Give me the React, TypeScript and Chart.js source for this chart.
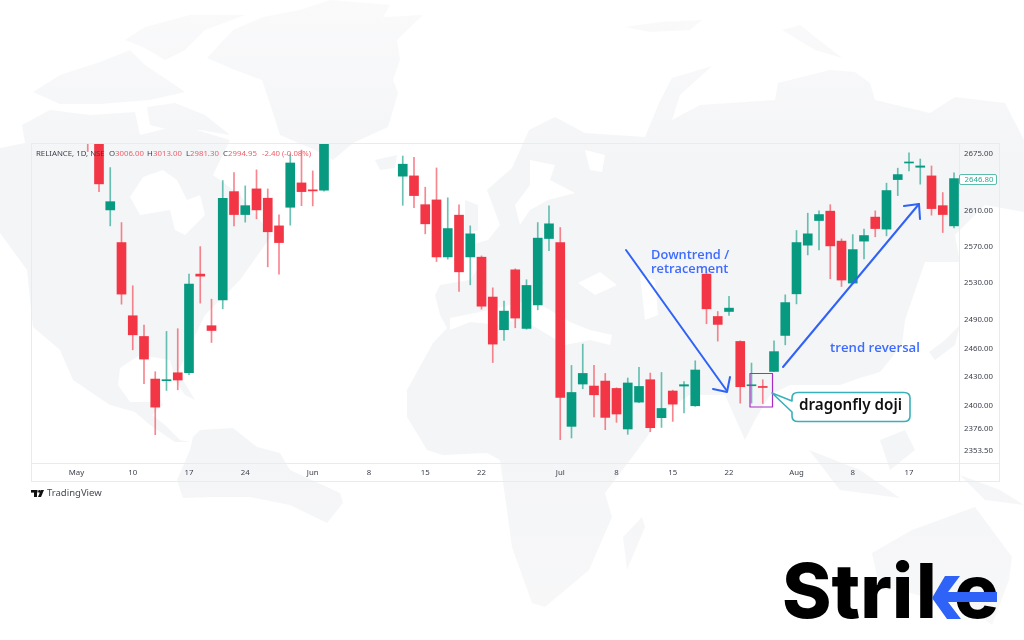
import React, { useEffect, useRef } from "react";
import { Chart, registerables } from "chart.js";

Chart.register(...registerables);

const sessions = [0,1,2,3,4,5,6,7,8,9,10,11,12,13,14,15,16,17,18,19,20,21,28,29,30,31,32,33,34,35,36,37,38,39,40,41,42,43,44,45,46,47,48,49,50,51,52,53,54,55,56,57,58,59,60,61,62,63,64,65,66,67,68,69,70,71,72,73,74,75,76,77];
const opens = [2730,2725,2611.3,2574.8,2494.8,2472.6,2427.6,2425.9,2434.2,2434.2,2540,2484.1,2512,2632,2606.1,2635.1,2624.5,2593.4,2614.3,2641.9,2634,2633.6,2649.6,2649.9,2617.2,2622.6,2558.9,2605.4,2558.9,2558.6,2515,2479.8,2544.7,2481.2,2506.5,2579.3,2574.8,2378.6,2422.4,2420.3,2425.5,2417.8,2375.9,2403.6,2426.9,2387.5,2415.1,2420.3,2399.8,2540,2494,2499.4,2467.3,2420.6,2419.9,2435.6,2473.7,2518.5,2571.9,2599.4,2609.9,2576.4,2530.2,2576.4,2603.2,2589.8,2645.7,2664.7,2659.8,2649.9,2616.1,2593.4];
const closes = [2700,2640.8,2620.6,2518.2,2474.4,2448.6,2398.4,2426.4,2426.6,2529.1,2537.8,2479,2624.5,2606.1,2616.1,2611.3,2586.8,2574.8,2664.7,2632,2632.8,2720,2663.3,2627.5,2595.7,2558.9,2590.4,2542.5,2584.5,2505.1,2464.5,2499.8,2492.3,2527.6,2579.7,2595.7,2408.4,2413.6,2433.5,2411.2,2387.8,2391.3,2423.5,2419.9,2377.2,2397,2401.5,2421.7,2437.1,2502.3,2485.5,2503,2419.6,2421.2,2418.8,2456.5,2509,2574.8,2584.5,2606.1,2571.1,2533.5,2567,2582.6,2590.4,2633.2,2651.4,2665.3,2661.3,2612.8,2606.1,2646.8];
const highs = [2745,2735,2659.4,2597.1,2527.3,2484.8,2435.3,2478,2480.9,2540,2570.3,2512.7,2644.6,2653.7,2638.5,2656.8,2635.1,2605.7,2675,2679.6,2655.6,2735,2672.7,2671.2,2637,2659,2625,2616.9,2593.4,2560,2525,2510.5,2545.8,2533.8,2597.1,2615.8,2591.6,2441.9,2464.5,2441.9,2433.5,2418.5,2428.7,2439.8,2433.9,2434.5,2416,2425.1,2446.8,2541.8,2499.4,2515.9,2468,2444.4,2426.9,2468,2517.4,2588.2,2607.6,2610.2,2617.2,2578.9,2583.7,2589.8,2610.2,2641.6,2658.7,2676.5,2669.3,2661.3,2630.9,2653.3];
const lows = [2677.9,2632,2593.4,2507.3,2458.4,2422.7,2370.1,2415.7,2416.4,2432.1,2508.4,2466.2,2502.3,2593.4,2597.6,2601.3,2548,2540,2594.2,2616.1,2615.8,2632.5,2616.5,2613.9,2584.5,2553.8,2556.4,2521,2528.3,2501.9,2445,2468.3,2481.9,2480.3,2501.2,2565.9,2365,2366.7,2417.5,2388.2,2375.2,2382.7,2370.4,2403,2373.1,2377.5,2383.7,2392.3,2399.2,2486.2,2467.7,2495.1,2402.5,2402.5,2402.1,2435.3,2463.7,2507.6,2561.1,2566.7,2534.9,2526.5,2529.7,2556.7,2581.2,2582.3,2627.5,2655.6,2640.5,2605.4,2586,2591.2];

const priceTicks = [2675, 2610, 2570, 2530, 2490, 2460, 2430, 2400, 2376, 2353.5];
const timeTicks = [-1, 4, 9, 14, 20, 25, 30, 35, 42, 47, 52, 57, 63, 68, 73];
const timeLabels = ["May", "10", "17", "24", "Jun", "8", "15", "22", "Jul", "8", "15", "22", "Aug", "8", "17"];
const lastPrice = "2646.80";

const GREEN = "#089981";
const RED = "#F23645";
const BLUE = "#2f62f6";

const land: number[][][] = [
  [[207,58],[233,30],[263,17],[300,10],[330,0],[390,5],[383,17],[423,15],[397,40],[400,60],[393,80],[398,93],[388,127],[353,143],[333,160],[315,150],[280,135],[272,110],[262,80],[235,70]],
  [[33,92],[60,75],[100,62],[130,50],[145,65],[175,85],[185,92],[150,100],[100,104],[60,104]],
  [[125,40],[145,27],[190,15],[245,15],[205,30],[185,50],[165,60],[145,48]],
  [[147,107],[175,103],[205,115],[230,135],[200,130],[170,130],[150,125]],
  [[0,148],[25,143],[22,125],[50,110],[90,115],[135,112],[140,135],[180,125],[230,140],[213,175],[240,195],[272,235],[240,280],[230,290],[205,315],[193,340],[178,372],[195,400],[185,395],[176,382],[170,360],[140,355],[120,368],[118,385],[130,402],[150,402],[158,395],[163,405],[152,415],[165,425],[180,440],[190,442],[175,442],[150,425],[135,412],[110,405],[95,395],[73,380],[60,350],[33,327],[27,270],[0,233]],
  [[200,430],[233,428],[257,447],[280,453],[290,470],[340,493],[343,503],[327,523],[290,505],[250,497],[210,497],[183,498],[177,480],[190,450],[193,437]],
  [[407,390],[433,343],[447,328],[440,315],[435,295],[440,285],[470,280],[480,265],[470,245],[488,240],[500,225],[487,190],[512,168],[529,130],[555,117],[585,133],[645,137],[659,103],[672,78],[712,66],[680,95],[672,120],[700,105],[775,100],[778,83],[830,70],[855,72],[870,83],[875,100],[930,113],[955,97],[1005,103],[1024,140],[1024,212],[985,205],[955,235],[960,262],[925,262],[905,320],[902,345],[880,372],[860,378],[840,385],[815,385],[790,385],[770,395],[755,420],[745,440],[725,395],[690,395],[665,410],[645,440],[605,493],[612,517],[589,570],[545,607],[532,603],[512,547],[500,460],[487,453],[443,455],[427,450],[407,417]],
  [[642,517],[645,527],[627,570],[623,537]],
  [[872,553],[912,530],[975,507],[1012,557],[1009,580],[992,625],[972,610],[935,600],[900,590],[880,590]],
  [[809,450],[860,470],[900,498],[840,490]],
  [[880,440],[905,430],[915,450],[890,470]],
  [[960,475],[1000,490],[1024,505],[985,500]],
  [[929,352],[945,340],[960,325],[955,345],[935,360]],
  [[375,160],[397,155],[395,168],[380,170]],
  [[465,200],[478,205],[478,230],[465,235]],
  [[625,27],[660,22],[702,20],[690,30],[650,32]],
  [[782,30],[800,25],[842,58],[815,50],[795,38]],
];
const water: number[][][] = [
  [[130,197],[143,177],[163,170],[177,180],[187,200],[200,195],[205,215],[185,235],[175,230],[170,210],[140,215]],
  [[450,330],[470,322],[500,325],[520,318],[540,330],[565,345],[590,340],[610,345],[612,335],[590,330],[570,322],[550,310],[530,300],[510,305],[480,312],[450,318]],
  [[530,160],[555,165],[550,180],[575,193],[548,200],[530,210],[520,225],[515,205],[530,185]],
  [[578,283],[600,272],[617,285],[595,295]],
  [[640,275],[655,280],[658,315],[645,320]],
  [[585,150],[605,155],[602,172],[590,170]],
];

function poly(ctx: CanvasRenderingContext2D, pts: number[][], color: any) {
  ctx.fillStyle = color;
  ctx.beginPath();
  pts.forEach((p, i) => (i ? ctx.lineTo(p[0], p[1]) : ctx.moveTo(p[0], p[1])));
  ctx.closePath();
  ctx.fill();
}

function line(ctx: CanvasRenderingContext2D, pts: number[][], color: string, w: number) {
  ctx.strokeStyle = color;
  ctx.lineWidth = w;
  ctx.lineCap = "round";
  ctx.lineJoin = "round";
  ctx.beginPath();
  pts.forEach((p, i) => (i ? ctx.lineTo(p[0], p[1]) : ctx.moveTo(p[0], p[1])));
  ctx.stroke();
}

function text(ctx: CanvasRenderingContext2D, s: string, x: number, y: number, font: string, color: string) {
  ctx.font = font;
  ctx.fillStyle = color;
  ctx.textAlign = "left";
  ctx.textBaseline = "middle";
  ctx.fillText(s, x, y);
}

const backdrop = {
  id: "backdrop",
  beforeDraw(chart: any) {
    const ctx: CanvasRenderingContext2D = chart.ctx;
    ctx.save();
    ctx.fillStyle = "#ffffff";
    ctx.fillRect(0, 0, 1024, 640);
    const g = ctx.createLinearGradient(0, 0, 0, 640);
    g.addColorStop(0, "#fafafb");
    g.addColorStop(0.25, "#f4f5f7");
    g.addColorStop(0.7, "#f4f5f7");
    g.addColorStop(1, "#f8f8f9");
    land.forEach((p) => poly(ctx, p, g));
    water.forEach((p) => poly(ctx, p, "#ffffff"));
    ctx.strokeStyle = "#e9ebef";
    ctx.lineWidth = 1;
    ctx.strokeRect(31.5, 143.5, 968, 338);
    ctx.beginPath();
    ctx.moveTo(31, 463.5);
    ctx.lineTo(999, 463.5);
    ctx.moveTo(959.5, 144);
    ctx.lineTo(959.5, 481);
    ctx.stroke();
    ctx.restore();
  },
};

const overlay = {
  id: "overlay",
  afterDraw(chart: any) {
    const ctx: CanvasRenderingContext2D = chart.ctx;
    ctx.save();
    const lf = "7.8px 'Noto Sans'";
    const dark = "#3b3f4a";
    const red = "#f0606c";
    text(ctx, "RELIANCE, 1D, NSE", 36, 153.5, lf, dark);
    text(ctx, "O", 109, 153.5, lf, dark);
    text(ctx, "3006.00", 115, 153.5, lf, red);
    text(ctx, "H", 147, 153.5, lf, dark);
    text(ctx, "3013.00", 153, 153.5, lf, red);
    text(ctx, "L", 186, 153.5, lf, dark);
    text(ctx, "2981.30", 190, 153.5, lf, red);
    text(ctx, "C", 223, 153.5, lf, dark);
    text(ctx, "2994.95", 228, 153.5, lf, red);
    text(ctx, "-2.40 (-0.08%)", 262, 153.5, lf, red);

    // last price tag
    ctx.fillStyle = "#ffffff";
    ctx.strokeStyle = "#5cbcaa";
    ctx.lineWidth = 1;
    ctx.beginPath();
    ctx.roundRect(959.5, 174.5, 37, 10, 1.5);
    ctx.fill();
    ctx.stroke();
    text(ctx, lastPrice, 964.5, 179.5, lf, "#2aa893");

    // arrows
    line(ctx, [[626, 250], [727, 391]], BLUE, 2);
    line(ctx, [[713, 389], [727, 392], [730, 377]], BLUE, 2);
    line(ctx, [[783, 367], [919, 204]], BLUE, 2);
    line(ctx, [[904, 206], [919, 204], [920, 219]], BLUE, 2);

    text(ctx, "Downtrend /", 651, 255.5, "600 12.8px 'Open Sans'", "#3d6bff");
    text(ctx, "retracement", 651, 269, "600 12.8px 'Open Sans'", "#3d6bff");
    text(ctx, "trend reversal", 830, 348, "600 13.2px 'Open Sans'", "#3d6bff");

    // doji box
    ctx.strokeStyle = "#a62cc4";
    ctx.lineWidth = 1.2;
    ctx.strokeRect(750, 373.5, 22.5, 33.5);

    // callout
    ctx.strokeStyle = "#3ab0bb";
    ctx.fillStyle = "#ffffff";
    ctx.lineWidth = 1.6;
    ctx.beginPath();
    ctx.moveTo(798, 392.5);
    ctx.lineTo(904, 392.5);
    ctx.quadraticCurveTo(910, 392.5, 910, 398);
    ctx.lineTo(910, 416);
    ctx.quadraticCurveTo(910, 421.5, 904, 421.5);
    ctx.lineTo(798, 421.5);
    ctx.quadraticCurveTo(792, 421.5, 792, 416);
    ctx.lineTo(792, 412);
    ctx.lineTo(772, 393);
    ctx.lineTo(792, 401);
    ctx.lineTo(792, 398);
    ctx.quadraticCurveTo(792, 392.5, 798, 392.5);
    ctx.closePath();
    ctx.fill();
    ctx.stroke();
    text(ctx, "dragonfly doji", 799, 406, "600 15.2px 'Noto Sans'", "#111111");

    // TradingView mark
    ctx.fillStyle = "#111111";
    ctx.fillRect(31, 490, 6.5, 2.6);
    ctx.fillRect(34, 490, 3, 7);
    ctx.beginPath();
    ctx.arc(39.5, 491.4, 1.4, 0, Math.PI * 2);
    ctx.fill();
    poly(ctx, [[41, 490], [44, 490], [41, 497], [38, 497]], "#111111");
    text(ctx, "TradingView", 47, 493.5, "9.5px 'Noto Sans'", "#45484f");

    // Strike logo
    const sf = "800 75px Inter";
    ctx.textBaseline = "alphabetic";
    ctx.font = sf;
    ctx.fillStyle = "#000000";
    ctx.textAlign = "left";
    ctx.fillText("Stri", 782, 618);
    ctx.save();
    ctx.beginPath();
    ctx.rect(915, 540, 17.5, 90);
    ctx.clip();
    ctx.fillStyle = "#000000";
    ctx.fillText("k", 916, 618);
    ctx.restore();
    ctx.fillStyle = "#000000";
    ctx.fillText("e", 954, 618);
    poly(ctx, [[945, 576], [960, 576], [948, 592], [997, 592], [997, 602], [948, 602], [961, 619], [947, 619], [932, 598]], "#2f62f6");
    ctx.restore();
  },
};

export default function App() {
  const ref = useRef<HTMLCanvasElement | null>(null);
  useEffect(() => {
    if (!ref.current) return;
    const isUp = closes.map((c, i) => c >= opens[i]);
    const chart = new Chart(ref.current, {
      type: "bar",
      data: {
        datasets: [
          {
            label: "Body",
            data: sessions.map((x, i) => ({ x, y: [Math.min(opens[i], closes[i]), Math.max(opens[i], closes[i])] })) as any,
            backgroundColor: isUp.map((u) => (u ? GREEN : RED)),
            barThickness: 9,
            minBarLength: 1,
            grouped: false,
          },
          {
            label: "Wick",
            data: sessions.map((x, i) => ({ x, y: [lows[i], highs[i]] })) as any,
            backgroundColor: isUp.map((u) => (u ? "rgba(8,153,129,0.6)" : "rgba(242,54,69,0.6)")),
            barThickness: 1,
            grouped: false,
          },
        ],
      },
      options: {
        responsive: false,
        animation: false,
        events: [],
        layout: { padding: { left: 31, right: 25, top: 144, bottom: 159 } },
        plugins: { legend: { display: false }, tooltip: { enabled: false }, title: { display: false } },
        scales: {
          x: {
            type: "linear",
            offset: false,
            bounds: "data",
            min: -5.044,
            max: 77.444,
            grid: { display: false, drawTicks: false },
            border: { display: false },
            afterBuildTicks: (s: any) => { s.ticks = timeTicks.map((value) => ({ value })); },
            afterFit: (s: any) => { s.height = 18; },
            ticks: {
              autoSkip: false,
              maxRotation: 0,
              padding: 5,
              color: "#3b3f4a",
              font: { family: "'Noto Sans'", size: 7.8 },
              callback: (_v: any, i: number) => timeLabels[i],
            },
          },
          y: {
            type: "logarithmic",
            position: "right",
            bounds: "data",
            min: 2341.3,
            max: 2686.6,
            grid: { display: false, drawTicks: false },
            border: { display: false },
            afterBuildTicks: (s: any) => { s.ticks = priceTicks.map((value) => ({ value })); },
            afterFit: (s: any) => { s.width = 40; },
            ticks: {
              autoSkip: false,
              padding: 5,
              color: "#3b3f4a",
              font: { family: "'Noto Sans'", size: 7.8 },
              callback: (v: any) => Number(v).toFixed(2),
            },
          },
        },
      } as any,
      plugins: [backdrop, overlay],
    });
    return () => chart.destroy();
  }, []);
  return (
    <div style={{ position: "absolute", left: 0, top: 0, width: 1024, height: 640 }}>
      <canvas ref={ref} width={1024} height={640} style={{ display: "block", width: 1024, height: 640 }} />
    </div>
  );
}
